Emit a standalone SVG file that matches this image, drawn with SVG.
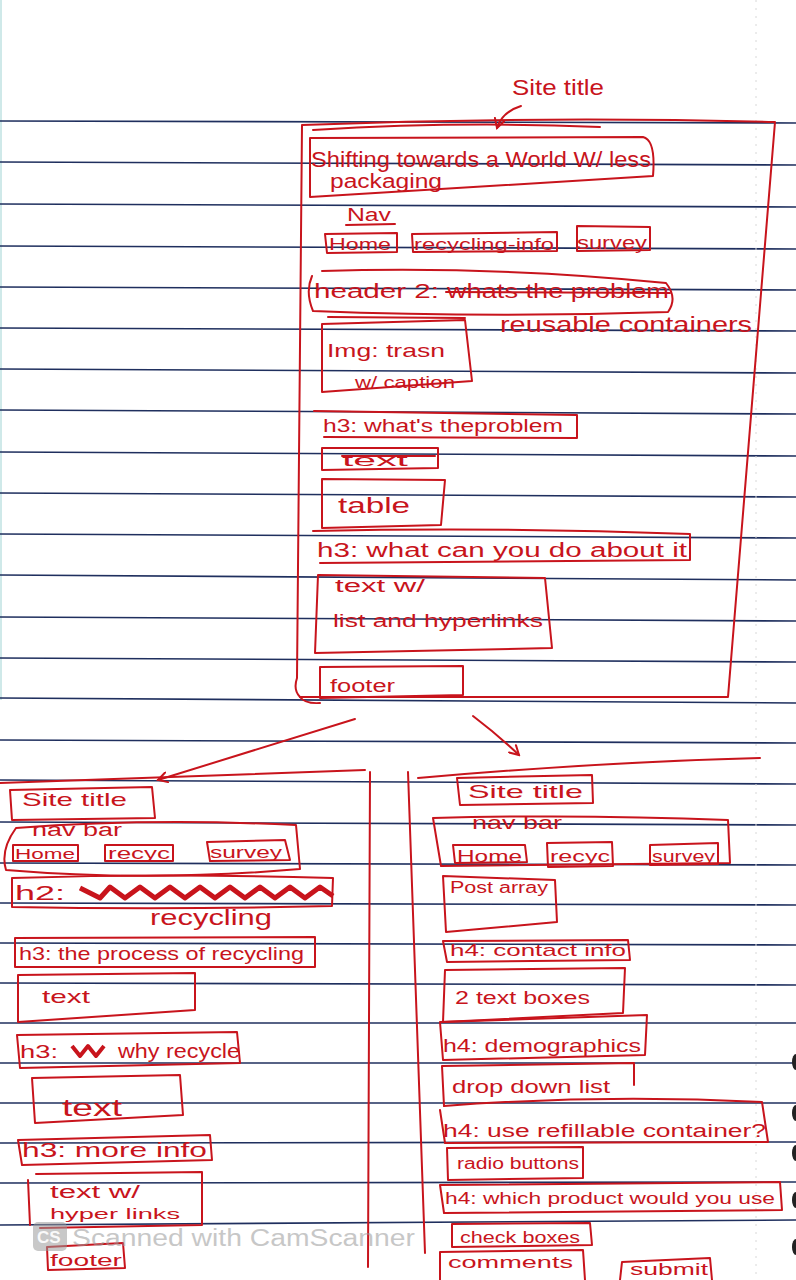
<svg xmlns="http://www.w3.org/2000/svg" width="796" height="1280" viewBox="0 0 796 1280">
<style>
.rule{stroke:#1f2f5e;stroke-width:1.6;fill:none}
.ink{stroke:#c8141c;stroke-width:2;fill:none;stroke-linejoin:round;stroke-linecap:round}
.t{fill:#c8141c;font-family:"Liberation Sans","DejaVu Sans",sans-serif}
.wm{fill:#9a9a9a;opacity:0.55;font-family:"Liberation Sans","DejaVu Sans",sans-serif}
</style>
<defs>
<marker id="ah" viewBox="0 0 12 12" refX="10" refY="6" markerWidth="12" markerHeight="12" markerUnits="userSpaceOnUse" orient="auto">
<path d="M1,1 L10,6 L1,11" fill="none" stroke="#c8141c" stroke-width="2" stroke-linecap="round"/>
</marker>
</defs>
<rect width="796" height="1280" fill="#ffffff"/>
<rect x="0" y="0" width="2" height="700" fill="#cfe9e9"/>
<g id="paper">
<line class="rule" x1="0" y1="121" x2="796" y2="123"/>
<line class="rule" x1="0" y1="162" x2="796" y2="165"/>
<line class="rule" x1="0" y1="204" x2="796" y2="207"/>
<line class="rule" x1="0" y1="246" x2="796" y2="249"/>
<line class="rule" x1="0" y1="287" x2="796" y2="290"/>
<line class="rule" x1="0" y1="328" x2="796" y2="331"/>
<line class="rule" x1="0" y1="369" x2="796" y2="373"/>
<line class="rule" x1="0" y1="410" x2="796" y2="414"/>
<line class="rule" x1="0" y1="452" x2="796" y2="456"/>
<line class="rule" x1="0" y1="493" x2="796" y2="497"/>
<line class="rule" x1="0" y1="534" x2="796" y2="538"/>
<line class="rule" x1="0" y1="575" x2="796" y2="580"/>
<line class="rule" x1="0" y1="617" x2="796" y2="621"/>
<line class="rule" x1="0" y1="658" x2="796" y2="662"/>
<line class="rule" x1="0" y1="698" x2="796" y2="703"/>
<line class="rule" x1="0" y1="740" x2="796" y2="743"/>
<line class="rule" x1="0" y1="780" x2="796" y2="784"/>
<line class="rule" x1="0" y1="822" x2="796" y2="825"/>
<line class="rule" x1="0" y1="863" x2="796" y2="865"/>
<line class="rule" x1="0" y1="903" x2="796" y2="905"/>
<line class="rule" x1="0" y1="943" x2="796" y2="945"/>
<line class="rule" x1="0" y1="983" x2="796" y2="985"/>
<line class="rule" x1="0" y1="1023" x2="796" y2="1023"/>
<line class="rule" x1="0" y1="1063" x2="796" y2="1063"/>
<line class="rule" x1="0" y1="1103" x2="796" y2="1103"/>
<line class="rule" x1="0" y1="1143" x2="796" y2="1142"/>
<line class="rule" x1="0" y1="1183" x2="796" y2="1182"/>
<line class="rule" x1="0" y1="1225" x2="796" y2="1220"/>
<line x1="756" y1="0" x2="756" y2="1280" stroke="#d8d8d8" stroke-width="1" stroke-dasharray="2 6"/>
<ellipse cx="796" cy="1062" rx="4" ry="8" fill="#222"/>
<ellipse cx="796" cy="1113" rx="4" ry="8" fill="#222"/>
<ellipse cx="796" cy="1153" rx="4" ry="8" fill="#222"/>
<ellipse cx="796" cy="1200" rx="4" ry="8" fill="#222"/>
<ellipse cx="796" cy="1247" rx="4" ry="8" fill="#222"/>
</g>

<g id="connectors">
<path class="ink" d="M521,106 Q502,112 497,128" marker-end="url(#ah)"/>
<path class="ink" d="M355,719 L158,780" marker-end="url(#ah)"/>
<path class="ink" d="M473,716 Q498,735 519,755" marker-end="url(#ah)"/>
</g>

<g id="site-title-label">
<text class="t" x="512" y="95" font-size="22" textLength="92" lengthAdjust="spacingAndGlyphs">Site title</text>
</g>

<g id="home-page">
<path class="ink" d="M302,125 Q540,116 775,122 L728,697 L300,697 Q293,690 297,678 L302,125"/>
<path class="ink" d="M300,697 Q305,704 320,703"/>
<path class="ink" d="M313,130 Q460,121 600,127"/>
</g>
<g id="title-box">
<path class="ink" d="M310,138 L643,137 Q656,140 653,176 L310,197 Z"/>
<text class="t" x="311" y="167" font-size="22" textLength="340" lengthAdjust="spacingAndGlyphs">Shifting towards a World W/ less</text>
<text class="t" x="330" y="188" font-size="20" textLength="112" lengthAdjust="spacingAndGlyphs">packaging</text>
</g>
<g id="nav-top">
<text class="t" x="347" y="221" font-size="18" textLength="44" lengthAdjust="spacingAndGlyphs">Nav</text>
<path class="ink" d="M346,225 L395,224"/>
<path class="ink" d="M325,234 L397,233 L397,252 L327,253 Z"/>
<text class="t" x="329" y="250" font-size="17" textLength="62" lengthAdjust="spacingAndGlyphs">Home</text>
<path class="ink" d="M412,234 L557,232 L557,251 L413,252 Z"/>
<text class="t" x="414" y="250" font-size="17" textLength="140" lengthAdjust="spacingAndGlyphs">recycling-info</text>
<path class="ink" d="M577,226 L650,227 L650,250 L577,251 Z"/>
<text class="t" x="577" y="249" font-size="18" textLength="70" lengthAdjust="spacingAndGlyphs">survey</text>
</g>
<g id="header2">
<path class="ink" d="M322,271 Q500,266 666,283 Q678,298 668,312 Q490,318 313,311 Q305,292 312,276"/>
<text class="t" x="314" y="298" font-size="20" textLength="125" lengthAdjust="spacingAndGlyphs">header 2:</text>
<text class="t" x="447" y="298" font-size="20" textLength="222" lengthAdjust="spacingAndGlyphs">whats the problem</text>
<path class="ink" d="M446,292 L670,293"/>
<text class="t" x="500" y="332" font-size="22" textLength="252" lengthAdjust="spacingAndGlyphs">reusable containers</text>
</g>
<g id="img-box">
<path class="ink" d="M328,317 L465,318"/>
<path class="ink" d="M322,324 L465,320 L472,381 L322,392 Z"/>
<text class="t" x="327" y="357" font-size="19" textLength="118" lengthAdjust="spacingAndGlyphs">Img: trasn</text>
<text class="t" x="355" y="388" font-size="17" textLength="100" lengthAdjust="spacingAndGlyphs">w/ caption</text>
</g>
<g id="h3-problem">
<path class="ink" d="M314,411 L577,415 L577,438 L324,437"/>
<text class="t" x="323" y="432" font-size="18" textLength="240" lengthAdjust="spacingAndGlyphs">h3: what's theproblem</text>
</g>
<g id="text-1">
<path class="ink" d="M322,448 L438,448 L438,468 L322,470 Z"/>
<path class="ink" d="M342,456 L435,456"/>
<text class="t" x="342" y="466" font-size="17" textLength="66" lengthAdjust="spacingAndGlyphs">text</text>
</g>
<g id="table">
<path class="ink" d="M322,479 L445,480 L441,525 L322,528 Z"/>
<text class="t" x="338" y="513" font-size="22" textLength="72" lengthAdjust="spacingAndGlyphs">table</text>
</g>
<g id="h3-do">
<path class="ink" d="M313,531 Q500,527 690,534 L690,560 L320,563"/>
<text class="t" x="317" y="557" font-size="20" textLength="370" lengthAdjust="spacingAndGlyphs">h3: what can you do about it</text>
</g>
<g id="text-list">
<path class="ink" d="M318,575 L545,578 L552,648 L315,653 Z"/>
<text class="t" x="335" y="592" font-size="18" textLength="90" lengthAdjust="spacingAndGlyphs">text w/</text>
<text class="t" x="333" y="627" font-size="18" textLength="210" lengthAdjust="spacingAndGlyphs">list and hyperlinks</text>
</g>
<g id="footer-top">
<path class="ink" d="M320,667 L463,666 L463,695 L320,698 Z"/>
<text class="t" x="330" y="692" font-size="18" textLength="65" lengthAdjust="spacingAndGlyphs">footer</text>
</g>

<g id="recycling-page">
<path class="ink" d="M0,783 Q160,777 365,770"/>
<path class="ink" d="M370,772 L368,1267"/>
</g>
<g id="l-site-title">
<path class="ink" d="M10,790 L152,787 L155,818 L12,820 Z"/>
<text class="t" x="22" y="806" font-size="19" textLength="105" lengthAdjust="spacingAndGlyphs">Site title</text>
</g>
<g id="l-nav">
<path class="ink" d="M16,828 Q150,818 296,825 L300,869 Q150,882 6,870 Q0,850 16,828 Z"/>
<text class="t" x="32" y="836" font-size="18" textLength="90" lengthAdjust="spacingAndGlyphs">nav bar</text>
<path class="ink" d="M13,845 L78,845 L78,861 L13,861 Z"/>
<text class="t" x="15" y="859" font-size="15" textLength="60" lengthAdjust="spacingAndGlyphs">Home</text>
<path class="ink" d="M105,845 L173,845 L173,861 L105,861 Z"/>
<text class="t" x="108" y="859" font-size="16" textLength="62" lengthAdjust="spacingAndGlyphs">recyc</text>
<path class="ink" d="M207,842 L285,840 L290,860 L210,861 Z"/>
<text class="t" x="210" y="858" font-size="16" textLength="72" lengthAdjust="spacingAndGlyphs">survey</text>
</g>
<g id="l-h2">
<path class="ink" d="M12,878 Q170,873 333,878 L332,906 Q170,910 12,907 Z"/>
<text class="t" x="15" y="900" font-size="20" textLength="50" lengthAdjust="spacingAndGlyphs">h2:</text>
<path d="M80,888 L100,898 L110,887 L125,898 L140,887 L155,898 L170,887 L185,898 L200,887 L215,898 L230,887 L245,898 L260,887 L275,898 L290,887 L305,898 L320,887 L333,896" fill="none" stroke="#c8141c" stroke-width="5" stroke-linejoin="round"/>
<text class="t" x="150" y="925" font-size="22" textLength="122" lengthAdjust="spacingAndGlyphs">recycling</text>
</g>
<g id="l-h3-process">
<path class="ink" d="M15,938 L315,937 L315,967 L15,967 Z"/>
<text class="t" x="19" y="960" font-size="19" textLength="285" lengthAdjust="spacingAndGlyphs">h3: the process of recycling</text>
</g>
<g id="l-text-1">
<path class="ink" d="M18,975 L195,973 L195,1010 L18,1022 Z"/>
<text class="t" x="42" y="1003" font-size="19" textLength="48" lengthAdjust="spacingAndGlyphs">text</text>
</g>
<g id="l-h3-why">
<path class="ink" d="M17,1035 L237,1032 L240,1063 L20,1068 Z"/>
<text class="t" x="20" y="1058" font-size="18" textLength="38" lengthAdjust="spacingAndGlyphs">h3:</text>
<path d="M72,1046 L80,1056 L88,1046 L96,1056 L104,1046" fill="none" stroke="#c8141c" stroke-width="4" stroke-linejoin="round"/>
<text class="t" x="118" y="1058" font-size="20" textLength="122" lengthAdjust="spacingAndGlyphs">why recycle</text>
</g>
<g id="l-text-2">
<path class="ink" d="M32,1078 L180,1075 L183,1115 L35,1123 Z"/>
<text class="t" x="62" y="1116" font-size="24" textLength="60" lengthAdjust="spacingAndGlyphs">text</text>
</g>
<g id="l-h3-more">
<path class="ink" d="M18,1140 L210,1135 L212,1160 L22,1165 Z"/>
<text class="t" x="22" y="1157" font-size="20" textLength="185" lengthAdjust="spacingAndGlyphs">h3: more info</text>
</g>
<g id="l-text-links">
<path class="ink" d="M28,1180 L30,1225 M36,1174 L202,1172 L202,1225 L40,1228"/>
<text class="t" x="50" y="1198" font-size="18" textLength="90" lengthAdjust="spacingAndGlyphs">text w/</text>
<text class="t" x="50" y="1219" font-size="15" textLength="130" lengthAdjust="spacingAndGlyphs">hyper links</text>
</g>
<g id="l-footer">
<path class="ink" d="M47,1247 L123,1243 L125,1268 L48,1270 Z"/>
<text class="t" x="50" y="1266" font-size="17" textLength="72" lengthAdjust="spacingAndGlyphs">footer</text>
</g>

<g id="survey-page">
<path class="ink" d="M418,778 Q600,762 760,758"/>
<path class="ink" d="M408,772 L425,1253"/>
</g>
<g id="r-site-title">
<path class="ink" d="M457,778 L592,775 L593,803 L460,805 Z"/>
<text class="t" x="468" y="798" font-size="19" textLength="115" lengthAdjust="spacingAndGlyphs">Site title</text>
</g>
<g id="r-nav">
<path class="ink" d="M433,818 Q580,814 728,820 L730,863 L441,866 Z"/>
<text class="t" x="472" y="829" font-size="18" textLength="90" lengthAdjust="spacingAndGlyphs">nav bar</text>
<path class="ink" d="M453,845 L525,845 L527,862 L455,863 Z"/>
<text class="t" x="457" y="862" font-size="17" textLength="65" lengthAdjust="spacingAndGlyphs">Home</text>
<path class="ink" d="M547,843 L612,842 L613,866 L548,867 Z"/>
<text class="t" x="550" y="862" font-size="17" textLength="60" lengthAdjust="spacingAndGlyphs">recyc</text>
<path class="ink" d="M650,845 L718,843 L718,864 L650,865 Z"/>
<text class="t" x="652" y="862" font-size="17" textLength="63" lengthAdjust="spacingAndGlyphs">survey</text>
</g>
<g id="r-post">
<path class="ink" d="M443,876 L555,880 L557,922 L446,932 Z"/>
<text class="t" x="450" y="893" font-size="16" textLength="98" lengthAdjust="spacingAndGlyphs">Post array</text>
</g>
<g id="r-h4-contact">
<path class="ink" d="M443,941 L628,940 L630,960 L447,962 Z"/>
<text class="t" x="450" y="956" font-size="17" textLength="176" lengthAdjust="spacingAndGlyphs">h4: contact info</text>
</g>
<g id="r-text-boxes">
<path class="ink" d="M445,970 L625,968 L623,1013 L443,1022 Z"/>
<text class="t" x="455" y="1004" font-size="18" textLength="135" lengthAdjust="spacingAndGlyphs">2 text boxes</text>
</g>
<g id="r-h4-demo">
<path class="ink" d="M440,1022 L647,1015 L645,1055 L443,1060 Z"/>
<text class="t" x="443" y="1052" font-size="19" textLength="198" lengthAdjust="spacingAndGlyphs">h4: demographics</text>
</g>
<g id="r-dropdown">
<path class="ink" d="M442,1066 L634,1063 L634,1085 M442,1066 L444,1106"/>
<text class="t" x="452" y="1093" font-size="18" textLength="158" lengthAdjust="spacingAndGlyphs">drop down list</text>
</g>
<g id="r-h4-refill">
<path class="ink" d="M444,1106 Q600,1094 762,1102 L768,1142 L445,1143 L440,1110"/>
<text class="t" x="443" y="1137" font-size="18" textLength="323" lengthAdjust="spacingAndGlyphs">h4: use refillable container?</text>
</g>
<g id="r-radio">
<path class="ink" d="M447,1148 L583,1147 L583,1178 L448,1180 Z"/>
<text class="t" x="457" y="1169" font-size="16" textLength="122" lengthAdjust="spacingAndGlyphs">radio buttons</text>
</g>
<g id="r-h4-product">
<path class="ink" d="M440,1185 L780,1182 L782,1210 L444,1213 Z"/>
<text class="t" x="445" y="1204" font-size="17" textLength="330" lengthAdjust="spacingAndGlyphs">h4: which product would you use</text>
</g>
<g id="r-check">
<path class="ink" d="M452,1224 L590,1223 L592,1245 L452,1247 Z"/>
<text class="t" x="460" y="1243" font-size="16" textLength="120" lengthAdjust="spacingAndGlyphs">check boxes</text>
</g>
<g id="r-comments">
<path class="ink" d="M440,1280 L440,1252 L583,1250 L585,1280"/>
<text class="t" x="448" y="1268" font-size="17" textLength="125" lengthAdjust="spacingAndGlyphs">comments</text>
</g>
<g id="r-submit">
<path class="ink" d="M620,1280 L622,1262 L710,1258 L712,1280"/>
<text class="t" x="630" y="1275" font-size="16" textLength="78" lengthAdjust="spacingAndGlyphs">submit</text>
</g>

<g id="watermark">
<rect x="33" y="1222" width="34" height="29" rx="5" fill="#9a9a9a" opacity="0.55"/>
<text x="37" y="1243" font-size="17" fill="#ffffff" opacity="0.9" font-family="Liberation Sans,sans-serif" font-weight="bold">CS</text>
<text class="wm" x="72" y="1246" font-size="23" textLength="343" lengthAdjust="spacingAndGlyphs">Scanned with CamScanner</text>
</g>
</svg>
